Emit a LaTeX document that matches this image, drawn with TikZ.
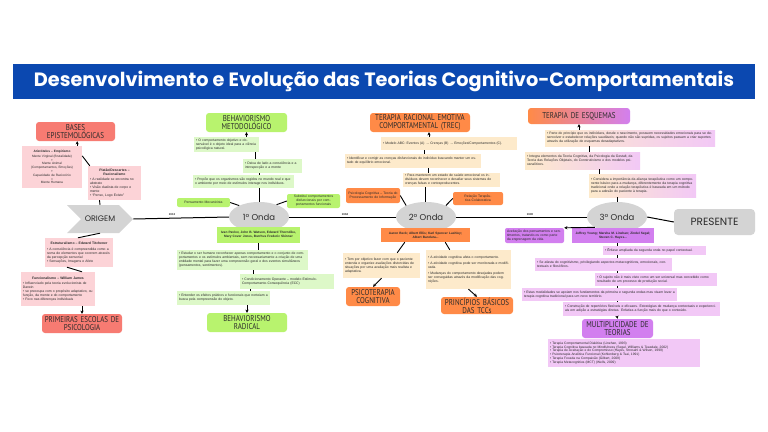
\documentclass[tikz,border=0pt]{standalone}
\usepackage{fontspec}
\setmainfont{Liberation Sans}
\newfontfamily\tfont[FakeStretch=0.82]{PT Sans}
\newfontfamily\pfont{Poppins}
\usetikzlibrary{arrows.meta,shapes.geometric,shapes.symbols}
\definecolor{bannerc}{HTML}{0B48B0}
\definecolor{salmon}{HTML}{F77B72}
\definecolor{pinkc}{HTML}{FCD3D7}
\definecolor{gbright}{HTML}{B8F36E}
\definecolor{glight}{HTML}{DDF8C8}
\definecolor{orangec}{HTML}{FF8A47}
\definecolor{creamc}{HTML}{FDEACB}
\definecolor{purplec}{HTML}{D27FEF}
\definecolor{lavc}{HTML}{F2C8F6}
\definecolor{grayc}{HTML}{D4D4D4}
\definecolor{txtc}{HTML}{2B2B2B}
\newcommand\bx[7]{%
  \pgfmathsetmacro\bxw{#4-#2}\pgfmathsetmacro\bxh{#5-#3}\pgfmathsetmacro\bxtw{#4-#2-4}%
  \node[#6, minimum width=\bxw pt, minimum height=\bxh pt, text width=\bxtw pt] (#1) at ({(#2+#4)/2},{(#3+#5)/2}) {#7};}
\tikzset{
  ln/.style={line width=0.9pt, black},
  arr/.style={line width=0.9pt, black, -{Stealth[length=3.2pt,width=3.2pt]}},
  base/.style={inner xsep=2pt, inner ysep=0.5pt, font=\fontsize{3.4}{4}\selectfont, align=left, text=txtc},
  pinkbox/.style={base, fill=pinkc},
  gbox/.style={base, fill=glight},
  cbox/.style={base, fill=creamc},
  lbox/.style={base, fill=lavc},
  grbox/.style={base, left color=creamc, right color=lavc},
  ttl/.style={inner xsep=1pt, inner ysep=0.5pt, rounded corners=3pt, align=center, font=\tfont\fontsize{8.5}{8.3}\selectfont, text=txtc},
  salttl/.style={ttl, fill=salmon},
  gttl/.style={ttl, fill=gbright},
  ottl/.style={ttl, fill=orangec},
  pttl/.style={ttl, fill=purplec},
  smallg/.style={base, fill=gbright, rounded corners=2pt, align=center},
  smallo/.style={base, fill=orangec, rounded corners=2pt, align=center},
  smallp/.style={base, fill=purplec, rounded corners=2pt, align=center},
  names/.style={base, align=center, font=\fontsize{3.2}{3.9}\selectfont\bfseries},
  onda/.style={ellipse, fill=grayc, minimum width=60pt, minimum height=30pt, inner sep=0pt, font=\pfont\fontsize{8.5}{8.5}\selectfont, text=txtc},
  year/.style={font=\fontsize{2.8}{3}\selectfont\bfseries, inner sep=0.5pt, text=txtc}
}
\begin{document}
\begin{tikzpicture}[x=1pt,y=-1pt]
\useasboundingbox (0,0) rectangle (768,431);
\fill[white] (0,0) rectangle (768,431);
% banner
\node[fill=bannerc, minimum width=742pt, minimum height=35pt, inner sep=0pt] (title) at (384,81.5)
  {\resizebox{700pt}{!}{\color{white}\pfont\bfseries Desenvolvimento e Evolução das Teorias Cognitivo-Comportamentais}};
% spine nodes
\node[signal, signal from=west, signal to=east, fill=grayc, minimum width=66pt, minimum height=28pt, inner sep=0pt, font=\pfont\fontsize{8}{8}\selectfont, text=txtc] (origem) at (100,219) {ORIGEM};
\node[onda] (onda1) at (259,217) {1º Onda};
\node[onda] (onda2) at (426,217) {2º Onda};
\node[onda] (onda3) at (617,217) {3º Onda};
\node[fill=grayc, rounded corners=4pt, minimum width=81pt, minimum height=26pt, inner sep=0pt, font=\pfont\fontsize{10.5}{10.5}\selectfont, text=txtc] (pres) at (714.5,222) {PRESENTE};
\draw[line width=1pt] (origem.east) -- (onda1.west);
\draw[line width=1pt] (onda1.east) -- (onda2.west);
\draw[line width=1pt] (onda2.east) -- (onda3.west);
\draw[line width=1pt] (onda3.east) -- (pres.west);
\node[year] (y1) at (172,214.5) {1913};
\node[year] (y2) at (345,214.5) {1962};
\node[year] (y3) at (530,214.5) {1990};
% ---------- ORIGEM cluster
\bx{bases}{36}{122}{115}{141}{salttl}{BASES\\EPISTEMOLÓGICAS}
\bx{arist}{22}{146}{82}{188}{pinkbox, align=center, font=\fontsize{3.2}{3.8}\selectfont}{\textbf{Aristóteles – Empirismo}\\[1pt] Mente Virginal (Brutalidade)\\+\\Mente Animal\\(Comportamentos, Emoções)\\+\\Capacidade de Raciocínio\\=\\Mente Humana}
\bx{platao}{88}{166}{141}{200}{pinkbox}{\centering\textbf{Platão/Descartes –}\\\textbf{Racionalismo}\\[1pt] \raggedright • A realidade se encontra no abstrato\\• Visão dualista de corpo e mente\\• “Penso, Logo Existo”}
\bx{estrut}{45}{238}{113}{267}{pinkbox}{\centering\textbf{Estruturalismo – Edward Titchener}\\[1.5pt]\raggedright • A consciência é compreendida como a soma de elementos que ocorrem através da percepção sensorial\\• Sensações, Imagens e Afeto}
\bx{func}{21}{272}{95}{306}{pinkbox}{\centering\textbf{Funcionalismo – William James}\\[1.5pt]\raggedright • Influenciado pela teoria evolucionista de Darwin\\• se preocupa com o propósito adaptativo, ou função, da mente e do comportamento\\• Foco nas diferenças individuais}
\bx{prim}{42}{314}{122}{333}{salttl}{PRIMEIRAS ESCOLAS DE\\PSICOLOGIA}
\draw[arr] ([xshift=-5pt]arist.north east) -- ([xshift=-5pt]arist.north east |- bases.south);
\draw[ln] ([yshift=-10pt]arist.north east) -- ([xshift=2pt]platao.north west);
\draw[ln] ([xshift=-15pt]platao.south) -- (origem.north);
\draw[ln] (origem.south) -- ([xshift=-1pt]estrut.north);
\draw[ln] ([xshift=-12pt]estrut.south) -- ([xshift=24pt]func.north);
\draw[arr] ([xshift=24pt]func.south) -- ([xshift=24pt]func.south |- prim.north);
% ---------- 1a onda
\bx{bmet}{206}{113}{287}{132}{gttl}{BEHAVIORISMO\\METODOLÓGICO}
\bx{g1}{194}{137}{259}{152}{gbox}{• O comportamento objetivo e observável é o objeto ideal para a ciência psicológica natural.}
\bx{g2}{243}{159}{302}{173}{gbox}{• Deixa de lado a consciência e a introspecção e a mente}
\bx{g3}{193}{175}{294}{188}{gbox}{• Propõe que os organismos são regidos no mundo real e que o ambiente por meio de estímulos interage nos indivíduos.}
\bx{pmec}{177}{198}{230}{207}{smallg}{Pensamento Mecanicista}
\bx{subst}{287}{194}{340}{208}{smallg}{Substitui comportamentos disfuncionais por comportamentos funcionais}
\bx{n1}{217}{227}{300}{243}{names, fill=gbright}{Ivan Pavlov, John B. Watson, Edward Thorndike,\\Mary Cover Jones, Burrhus Frederic Skinner}
\bx{g4}{177}{250}{308}{270}{gbox}{• Estudar o ser humano reconhecer apenas comportamento e o conjunto de comportamentos e os estímulos ambientais, sem necessariamente a criação de uma entidade mental para fazer uma compreensão geral e dos eventos simultâneos (pensamentos, sentimentos).}
\bx{g5}{240}{274}{334}{289}{gbox}{• Condicionamento Operante – modelo Estímulo-Comportamento-Consequência (ECC)}
\bx{g6}{177}{291}{270}{305}{gbox}{• Entender os efeitos práticos e funcionais que norteiam a busca pela compreensão do objeto.}
\bx{brad}{207}{313}{287}{332}{gttl}{BEHAVIORISMO\\RADICAL}
\draw[arr] (bmet.south |- g1.north) -- (bmet.south);
\draw[ln] ([xshift=-4pt]g1.south east) -- ([xshift=-4pt]g1.south east |- g2.north);
\draw[ln] (onda1.north |- g2.south) -- (onda1.north |- g3.north);
\draw[ln] (onda1.north |- g3.south) -- (onda1.north);
\draw[ln] (pmec.east) -- (onda1.150);
\draw[ln] (subst.west) -- (onda1.35);
\draw[ln] (n1.south) -- (n1.south |- g4.north);
\draw[ln] ([xshift=14pt]g5.north west |- g4.south) -- ([xshift=14pt]g5.north west);
\draw[ln] ([xshift=11pt]g5.south west) -- ([xshift=11pt]g5.south west |- g6.north);
\draw[arr] (brad.north |- g6.south) -- (brad.north);
% ---------- 2a onda
\bx{trec}{370}{113}{470}{132}{ottl}{TERAPIA RACIONAL EMOTIVA\\COMPORTAMENTAL (TREC)}
\bx{c1}{381}{137}{517}{150}{cbox}{• Modelo ABC: Eventos (A) → Crenças (B) → Emoções/Comportamentos (C).}
\bx{c2}{345}{154}{481}{168}{cbox}{• Identificar e corrigir as crenças disfuncionais do indivíduo buscando manter um estado de equilíbrio emocional.}
\bx{c3}{403}{173}{500}{187}{cbox}{• Para manterem um estado de saúde emocional os indivíduos devem reconhecer e desafiar seus sistemas de crenças falsas e contraproducentes.}
\bx{psicog}{346}{188}{400}{203}{smallo}{Psicologia Cognitiva – Teoria do Processamento de Informação}
\bx{relac}{453}{192}{503}{205}{smallo}{Relação Terapêutica Colaborativa}
\bx{n2}{381}{228}{470}{242}{names, fill=orangec}{Aaron Beck; Albert Ellis; Karl Spencer Lashley;\\Albert Bandura...}
\bx{c4}{343}{253}{420}{278}{cbox}{• Tem por objetivo fazer com que o paciente entenda e organize avaliações distorcidas de situações por uma avaliação mais realista e adaptativa.}
\bx{pc}{346}{287}{400}{306}{ottl}{PSICOTERAPIA\\COGNITIVA}
\bx{c5}{426}{250}{511}{289}{cbox}{• A atividade cognitiva afeta o comportamento.\\[2pt]• A atividade cognitiva pode ser monitorada e modificada.\\[2pt]• Mudanças do comportamento desejadas podem ser conseguidas através da modificação das cognições.}
\bx{pb}{441}{297}{513}{314}{ottl}{PRINCÍPIOS BÁSICOS\\DAS TCCs}
\draw[arr] ([xshift=9pt]trec.south |- c1.north) -- ([xshift=9pt]trec.south);
\draw[ln] ([xshift=-2pt]onda2.north |- c1.south) -- ([xshift=-2pt]onda2.north |- c2.north);
\draw[ln] ([xshift=2pt]onda2.north |- c2.south) -- ([xshift=2pt]onda2.north |- c3.north);
\draw[ln] ([xshift=-1pt]onda2.north |- c3.south) -- ([xshift=-1pt]onda2.north);
\draw[ln] (psicog.east) -- (onda2.150);
\draw[ln] (relac.west) -- (onda2.30);
\draw[ln] ([xshift=24pt]n2.south west) -- ([xshift=-23pt]c4.north east);
\draw[ln] ([xshift=-25pt]n2.south east) -- ([xshift=24pt]c5.north west);
\draw[arr] (c4.south) -- (pc.north);
\draw[arr] (c5.south) -- (pb.north);
% ---------- 3a onda
\bx{te}{528}{108}{630}{124}{ttl, left color=orangec, right color=purplec}{TERAPIA DE ESQUEMAS}
\bx{e1}{545}{130}{715}{146}{grbox}{• Parte do princípio que os indivíduos, desde o nascimento, possuem necessidades emocionais para se desenvolver e estabelecer relações saudáveis; quando não são supridas, os sujeitos passam a criar suportes através da utilização de esquemas desadaptativos.}
\bx{e2}{525}{152}{640}{169}{grbox}{• Integra elementos da Teoria Cognitiva, da Psicologia da Gestalt, da Teoria das Relações Objetais, do Construtivismo e dos modelos psicanalíticos.}
\bx{e3}{589}{174}{696}{197}{grbox}{• Considera a importância da aliança terapêutica como um componente básico para a mudança, diferentemente da terapia cognitiva tradicional onde a relação terapêutica é baseada em um método para a adesão do paciente à terapia.}
\bx{acc}{505}{228}{564}{243}{smallp, align=left}{Aceitação dos pensamentos e sentimentos, tratando-os como parte da engrenagem da vida.}
\bx{n3}{572}{228}{654}{243}{names, fill=purplec}{Jeffrey Young; Marsha M. Linehan; Zindel Segal;\\Steven C. Hayes...}
\bx{l1}{603}{246}{706}{255}{lbox}{• Ênfase ampliada da segunda onda no papel contextual.}
\bx{l2}{535}{258}{672}{271}{lbox}{• Se afasta do cognitivismo, privilegiando aspectos metacognitivos, emocionais, contextuais e filosóficos.}
\bx{l3}{595}{273}{717}{286}{lbox}{• O sujeito não é mais visto como um ser universal mas concebido como resultado de um processo de produção social.}
\bx{l4}{522}{288}{677}{301}{lbox}{• Estas modalidades se apoiam nos fundamentos da primeira e segunda ondas mas visam levar a terapia cognitiva tradicional para um novo território.}
\bx{l5}{563}{302}{720}{316}{lbox}{• Construção de repertórios flexíveis e eficazes. Estratégias de mudança contextuais e experienciais em adição a estratégias diretas. Enfatiza a função mais do que o conteúdo.}
\bx{mult}{582}{319}{653}{338}{pttl}{MULTIPLICIDADE DE\\TEORIAS}
\bx{l6}{548}{339}{700}{367}{lbox, font=\fontsize{3.3}{3.9}\selectfont}{• Terapia Comportamental Dialética (Linehan, 1993)\\• Terapia Cognitiva baseada no Mindfulness (Segal, Williams \& Teasdale, 2002)\\• Terapia de Aceitação e do Compromisso (Hayes, Strosahl \& Wilson, 1999)\\• Psicoterapia Analítica Funcional (Kohlenberg \& Tsai, 1991)\\• Terapia Focada na Compaixão (Gilbert, 2009)\\• Terapia Metacognitiva (MCT) (Wells, 2009)}
\draw[arr] (te.south |- e1.north) -- (te.south);
\draw[ln] ([xshift=45pt]e1.south west) -- ([xshift=45pt]e1.south west |- e2.north);
\draw[ln] ([xshift=11pt]e3.north west |- e2.south) -- ([xshift=11pt]e3.north west);
\draw[ln] (onda3.north |- e3.south) -- (onda3.north);
\draw[arr] (onda3.205) -- (acc.north east);
\foreach \a/\b in {n3/l1,l1/l2,l2/l3,l3/l4,l4/l5}{
  \draw[ln] (onda3.south |- \a.south) -- (onda3.south |- \b.north);
}
\draw[arr] (onda3.south |- l5.south) -- (mult.north);
\end{tikzpicture}
\end{document}
